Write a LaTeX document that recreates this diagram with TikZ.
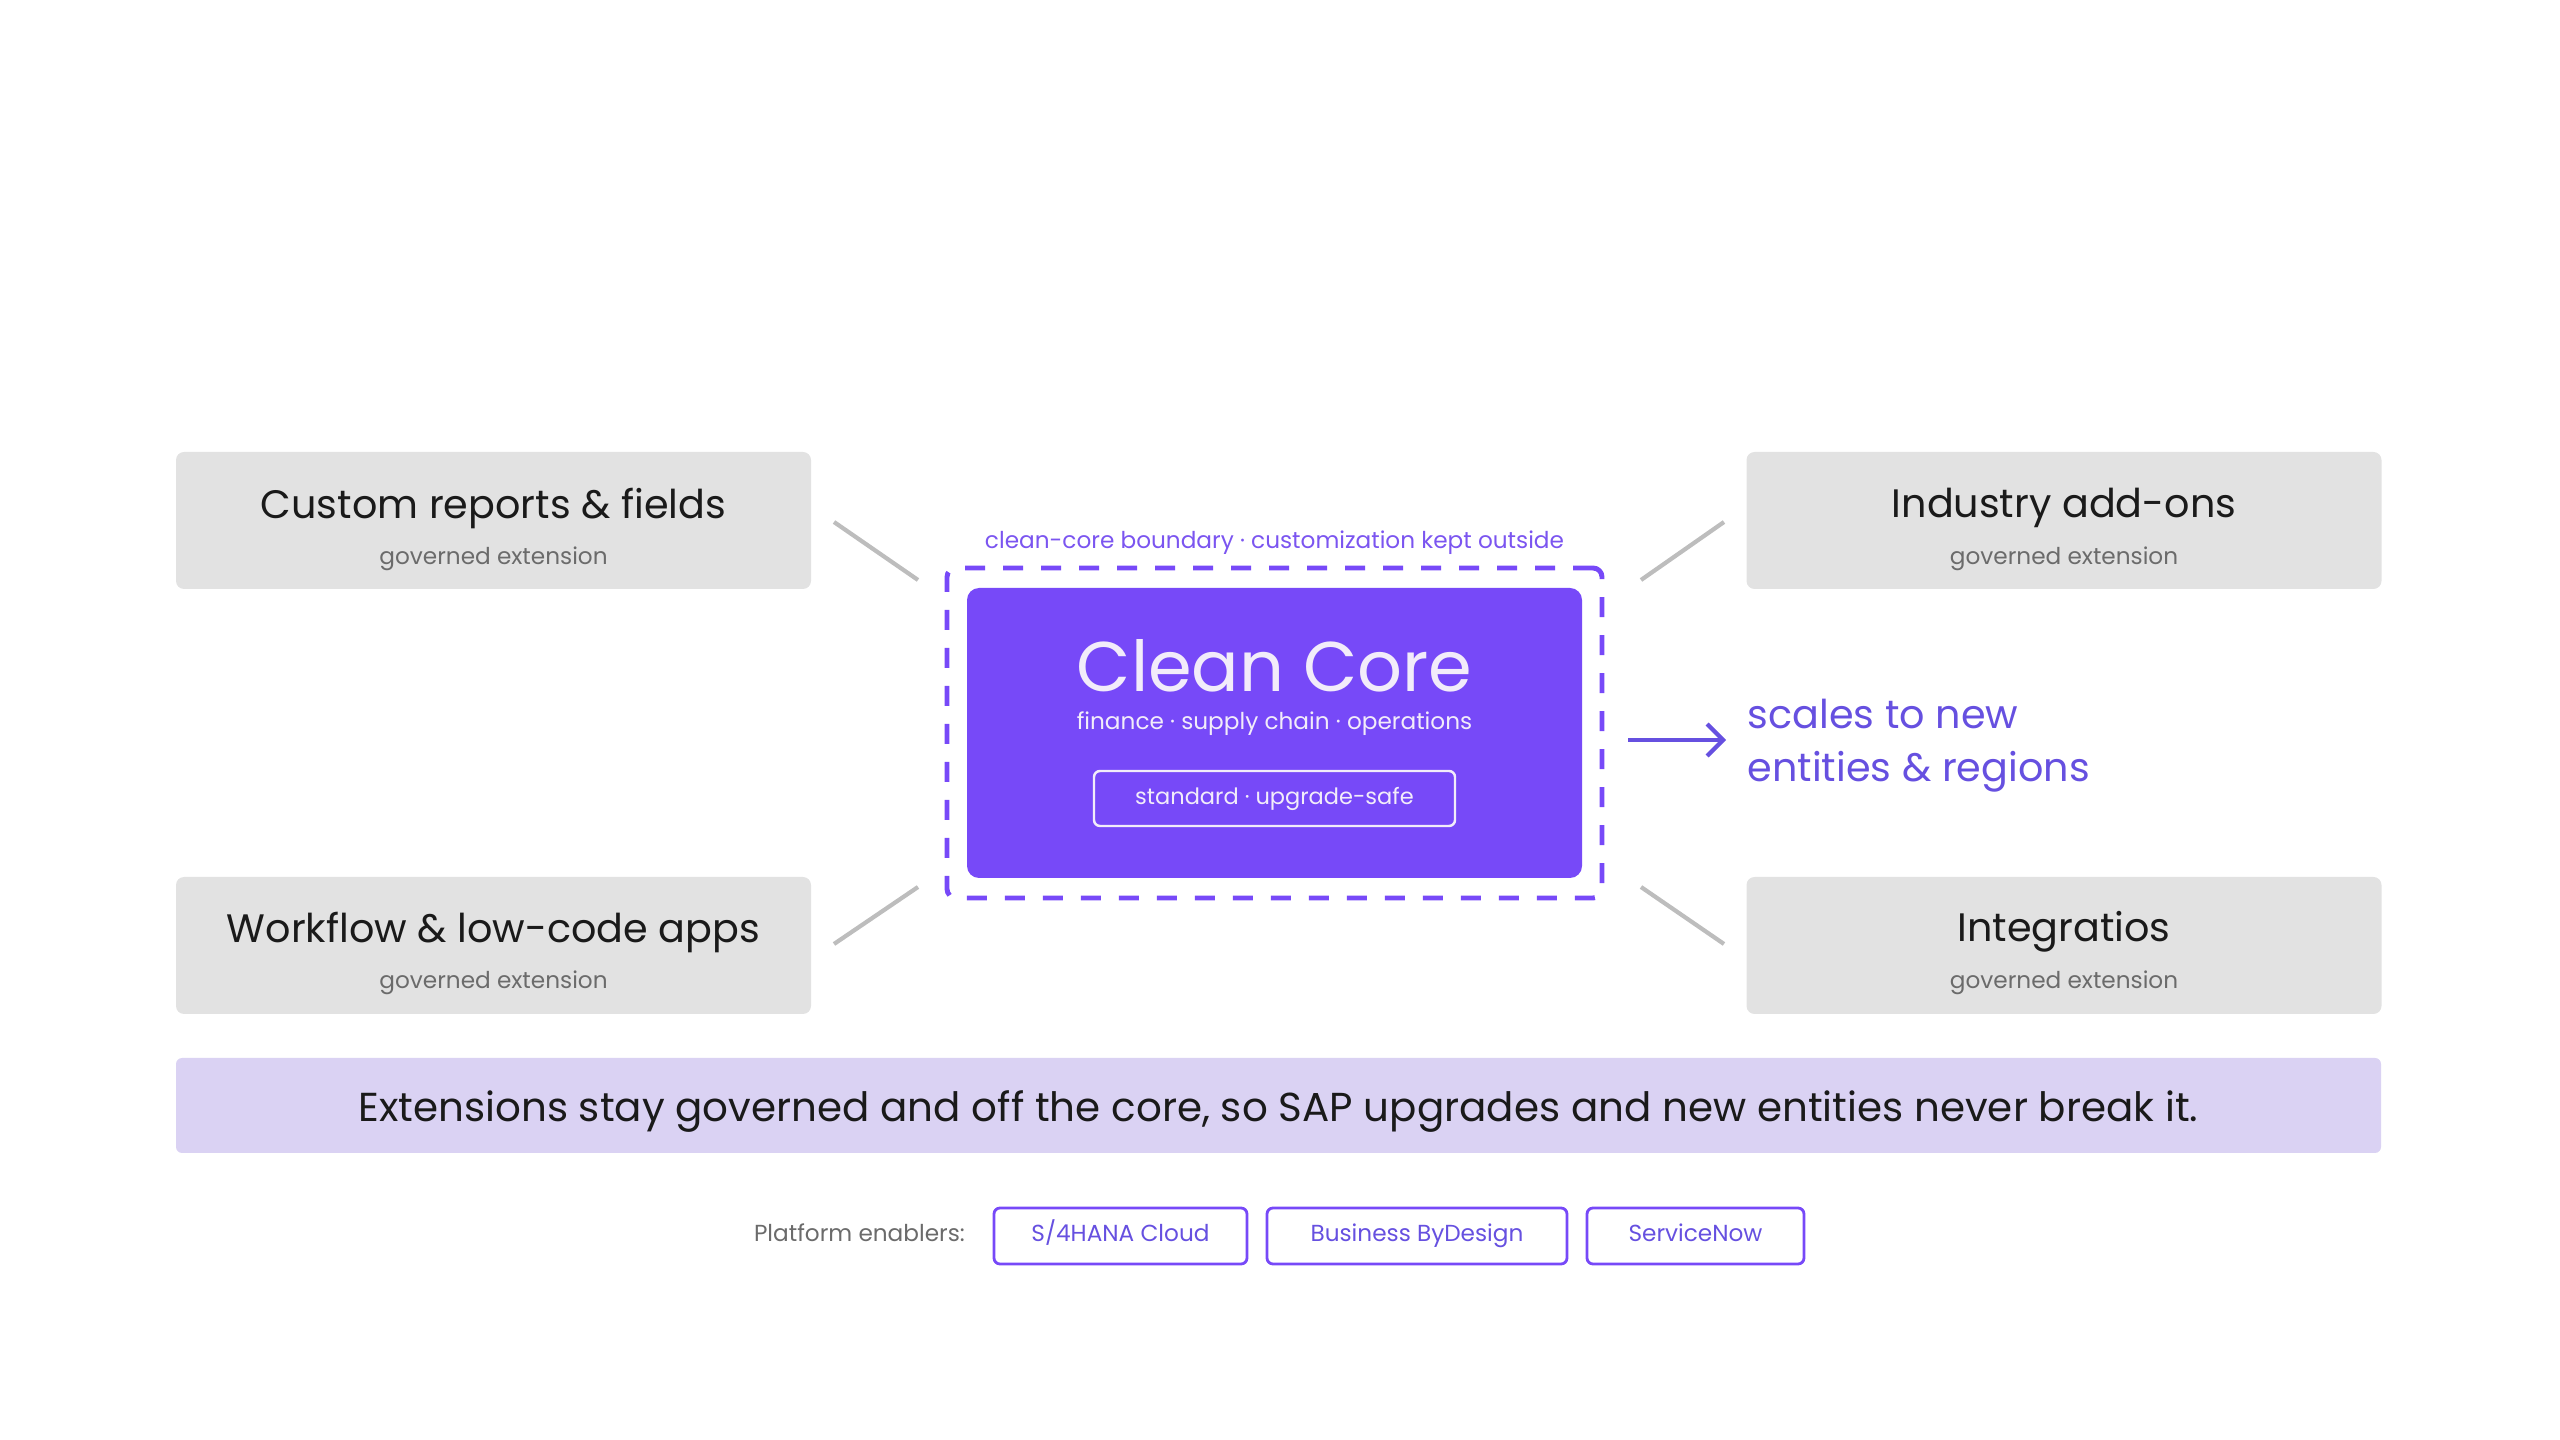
\documentclass[tikz,border=0pt]{standalone}
\usepackage{fontspec}
\setmainfont{Poppins}
\usepackage{tikz}
\usetikzlibrary{arrows.meta,positioning}
\definecolor{corepurple}{HTML}{7749F8}
\definecolor{labelpurple}{HTML}{7B55F0}
\definecolor{scalepurple}{HTML}{6650E0}
\definecolor{extgray}{HTML}{E2E2E2}
\definecolor{bannerbg}{HTML}{DAD2F3}
\definecolor{linkgray}{HTML}{BDBDBD}
\definecolor{ink}{HTML}{1A1A1A}
\definecolor{subgray}{HTML}{6B6B6B}
\definecolor{corewhite}{HTML}{F2ECFA}
\tikzset{
  extbox/.style={fill=extgray,rounded corners=0.8mm,
                 minimum width=63.5mm,minimum height=13.7mm,inner sep=0pt},
  exttitle/.style={text=ink,font=\fontsize{11.3}{13}\selectfont,inner sep=0pt},
  extsub/.style={text=subgray,font=\fontsize{6.6}{8}\selectfont,inner sep=0pt},
  link/.style={draw=linkgray,line width=1.2pt},
  boundary/.style={draw=corepurple,line width=1.4pt,rounded corners=0.9mm,
                   dash pattern=on 2mm off 1.8mm,
                   minimum width=65.5mm,minimum height=33mm,inner sep=0pt},
  corebox/.style={fill=corepurple,rounded corners=1.2mm,
                  minimum width=61.5mm,minimum height=29mm,inner sep=0pt},
  tagbox/.style={draw=corewhite,line width=0.7pt,rounded corners=0.6mm,
                 minimum width=36.1mm,minimum height=5.5mm,inner sep=0pt,
                 text height=1.7mm,text depth=0.5mm,
                 text=corewhite,font=\fontsize{6.4}{8}\selectfont},
  pill/.style={draw=corepurple,line width=0.8pt,rounded corners=0.6mm,
               minimum height=5.6mm,inner sep=0pt,
               text height=1.7mm,text depth=0.5mm,
               text=scalepurple,font=\fontsize{6.6}{8}\selectfont},
  flowarr/.style={-{Straight Barb[length=1.6mm,width=3.2mm]},draw=scalepurple,line width=1.2pt}
}
\begin{document}
\begin{tikzpicture}[x=0.1mm,y=-0.1mm]
  \useasboundingbox (0,0) rectangle (2560,1440);
  % extension boxes
  \node[extbox] (cr) at (493.5,520.5) {};
  \node[exttitle] at (493.5,508) {Custom reports \& fields};
  \node[extsub] at (493.5,559) {governed extension};
  \node[extbox] (ia) at (2064,520.5) {};
  \node[exttitle] at (2064,508) {Industry add-ons};
  \node[extsub] at (2064,559) {governed extension};
  \node[extbox] (wf) at (493.5,945.5) {};
  \node[exttitle] at (493.5,932) {Workflow \& low-code apps};
  \node[extsub] at (493.5,983) {governed extension};
  \node[extbox] (ig) at (2064,945.5) {};
  \node[exttitle] at (2064,932) {Integratios};
  \node[extsub] at (2064,983) {governed extension};
  % core
  \node[boundary] (bnd) at (1274.5,733) {};
  \node[text=labelpurple,font=\fontsize{6.6}{8}\selectfont,inner sep=0pt]
    (bndlabel) at (1274.5,543) {clean-core boundary · customization kept outside};
  \node[corebox] (core) at (1274.5,733) {};
  \node[text=corewhite,font=\fontsize{20}{24}\selectfont,inner sep=0pt]
    (coretitle) at (1274.5,666) {Clean Core};
  \node[text=corewhite,font=\fontsize{6.6}{8}\selectfont,inner sep=0pt]
    (coresub) at (1274.5,724) {finance · supply chain · operations};
  \node[tagbox] (tag) at (1274.5,798.5) {standard · upgrade-safe};
  % links
  \coordinate (crend) at (834,522);  \coordinate (crtip) at (918,580);
  \coordinate (iaend) at (1724,522); \coordinate (iatip) at (1641,580);
  \coordinate (wfend) at (834,944);  \coordinate (wftip) at (918,887);
  \coordinate (igend) at (1724,944); \coordinate (igtip) at (1641,887);
  \draw[link] (crend) -- (crtip);
  \draw[link] (iaend) -- (iatip);
  \draw[link] (wfend) -- (wftip);
  \draw[link] (igend) -- (igtip);
  % scaling note
  \coordinate (arrstart) at (1628,740);
  \node[anchor=west,align=left,text=scalepurple,font=\fontsize{11.3}{15}\selectfont,inner sep=0pt]
    (scale) at (1747,746) {scales to new\\entities \& regions};
  \draw[flowarr] (arrstart) -- ([xshift=-2.1mm]scale.west |- arrstart);
  % banner
  \node[fill=bannerbg,rounded corners=0.6mm,minimum width=220.5mm,minimum height=9.5mm,
        inner sep=0pt,text=ink,font=\fontsize{11.5}{13}\selectfont]
    (banner) at (1278.5,1105.5) {};
  \node[text=ink,font=\fontsize{11.5}{13}\selectfont,inner sep=0pt]
    (bannertext) at (1278.5,1112) {Extensions stay governed and off the core, so SAP upgrades and new entities never break it.};
  % platform enablers
  \node[pill,minimum width=25.3mm] (s4) at (1120.5,1236) {S/4HANA Cloud};
  \node[pill,minimum width=30mm] (byd) at (1417,1236) {Business ByDesign};
  \node[pill,minimum width=21.7mm] (snow) at (1695.5,1236) {ServiceNow};
  \node[anchor=east,text=subgray,font=\fontsize{6.6}{8}\selectfont,inner sep=0pt,
        text height=1.7mm,text depth=0.5mm]
    (enablers) at ([xshift=-2.7mm]s4.west) {Platform enablers:};
\end{tikzpicture}
\end{document}
